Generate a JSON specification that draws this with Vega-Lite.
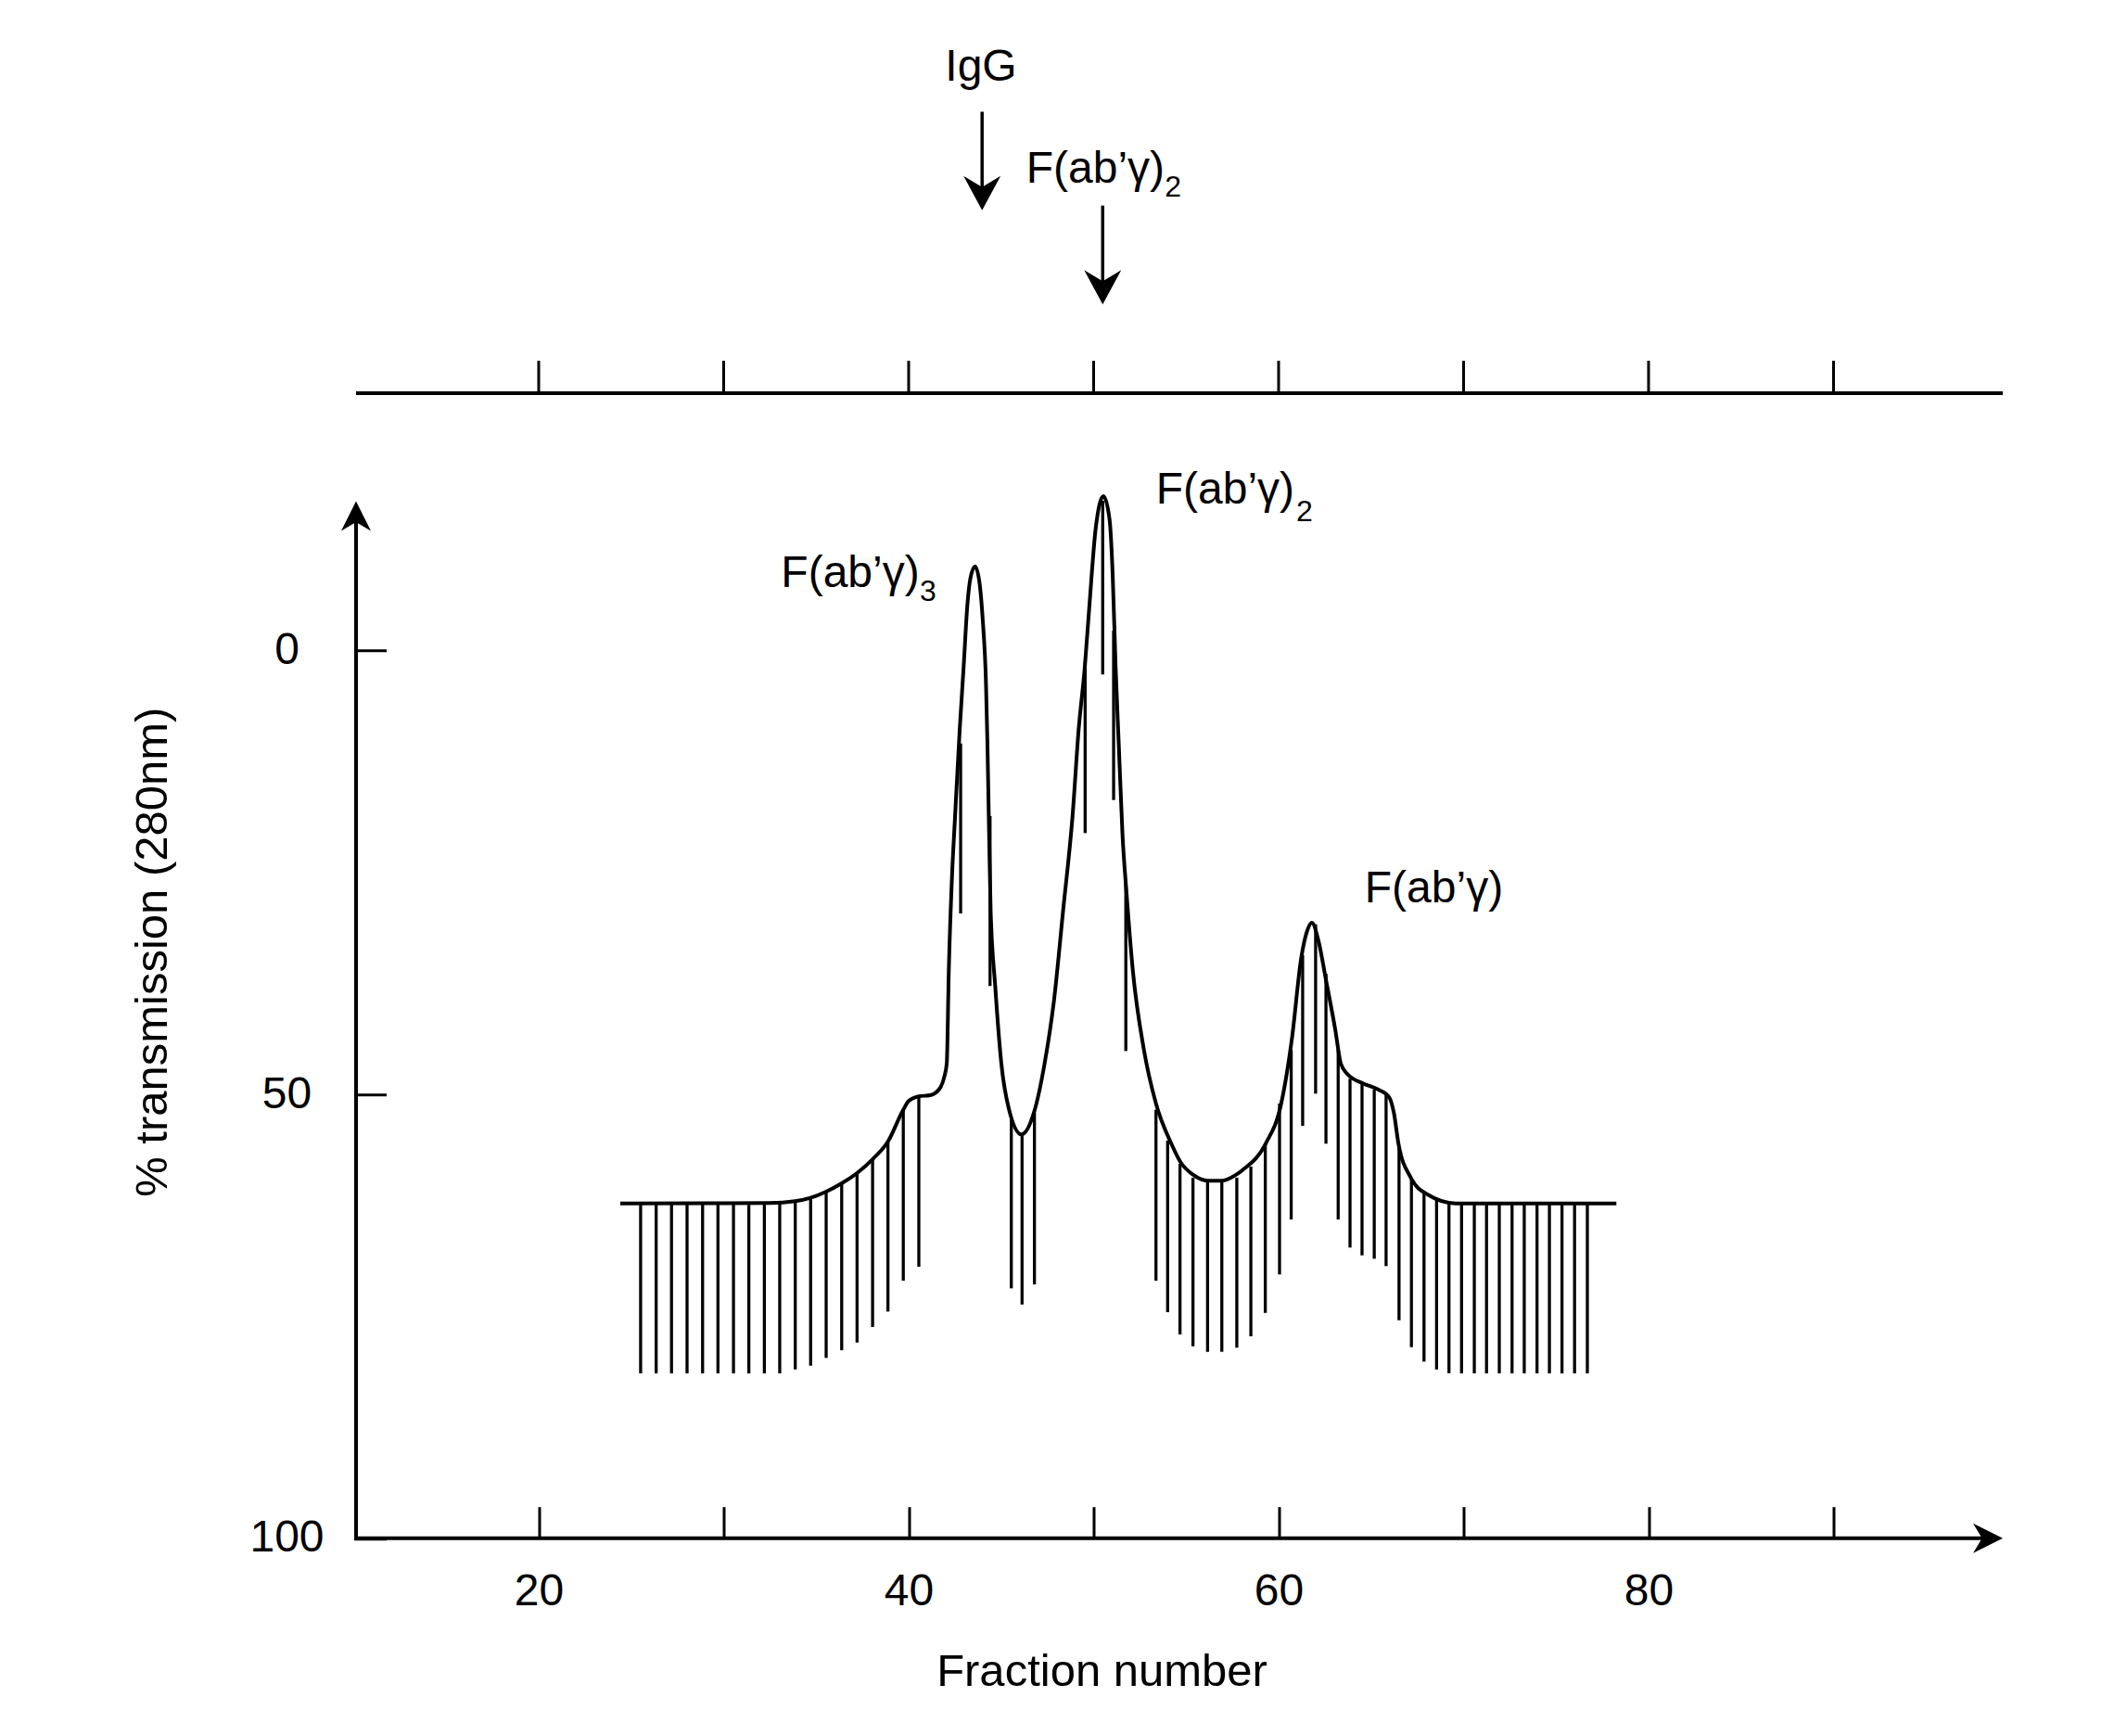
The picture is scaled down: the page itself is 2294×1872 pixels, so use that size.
{
  "$schema": "https://vega.github.io/schema/vega-lite/v6.json",
  "description": "Gel filtration profile: % transmission (280nm) against fraction number, with fraction drop lines.",
  "autosize": {"type": "none"},
  "padding": {"left": 381.5, "top": 414.2, "right": 117.5, "bottom": 213.3},
  "width": 1795.5,
  "height": 1244.5,
  "background": "white",
  "config": {
    "font": "Liberation Sans",
    "view": {"stroke": null},
    "axis": {"grid": false, "domain": false, "labelColor": "black", "titleColor": "black", "tickColor": "black", "titleFontWeight": "normal"}
  },
  "encoding": {
    "x": {
      "field": "x", "type": "quantitative",
      "scale": {"domain": [10, 100], "nice": false, "zero": false},
      "axis": {
        "values": [20, 30, 40, 50, 60, 70, 80, 90],
        "labelExpr": "datum.value % 20 === 0 ? datum.label : ''",
        "tickSize": -34, "tickWidth": 3,
        "labelFontSize": 48, "labelPadding": 92, "labelBaseline": "middle",
        "labelFlush": false, "labelOverlap": false,
        "title": "Fraction number", "titleFontSize": 49,
        "titleX": 806.5, "titleY": 144, "titleBaseline": "middle", "titleAlign": "center"
      }
    },
    "y": {
      "field": "y", "type": "quantitative",
      "scale": {"domain": [-30, 100], "nice": false, "zero": false, "reverse": true},
      "axis": {
        "values": [0, 50, 100],
        "tickSize": -35, "tickWidth": 3,
        "labelFontSize": 48, "labelPadding": 107.5, "labelAlign": "center", "labelBaseline": "middle",
        "labelFlush": false, "labelOverlap": false,
        "title": "% transmission (280nm)", "titleFontSize": 49, "titleAngle": -90,
        "titleX": -217, "titleY": 612, "titleBaseline": "middle", "titleAlign": "center"
      }
    }
  },
  "layer": [
    {
      "data": {"values": [
        {"x": 10.125, "y": 100, "y2": -16}
      ]},
      "mark": {"type": "rule", "color": "black", "strokeWidth": 4},
      "encoding": {"y2": {"field": "y2"}}
    },
    {
      "data": {"values": [
        {"x": 10.125, "x2": 98.7, "y": 100},
        {"x": 10.125, "x2": 99.15, "y": -28.98}
      ]},
      "mark": {"type": "rule", "color": "black", "strokeWidth": 4},
      "encoding": {"x2": {"field": "x2"}}
    },
    {
      "data": {"values": [
        {"x": 20, "y": -28.98, "y2": -32.63},
        {"x": 30, "y": -28.98, "y2": -32.63},
        {"x": 40, "y": -28.98, "y2": -32.63},
        {"x": 50, "y": -28.98, "y2": -32.63},
        {"x": 60, "y": -28.98, "y2": -32.63},
        {"x": 70, "y": -28.98, "y2": -32.63},
        {"x": 80, "y": -28.98, "y2": -32.63},
        {"x": 90, "y": -28.98, "y2": -32.63}
      ]},
      "mark": {"type": "rule", "color": "black", "strokeWidth": 3},
      "encoding": {"y2": {"field": "y2"}}
    },
    {
      "data": {"values": [
        {"x": 43.97, "y": -60.68, "y2": -51.5},
        {"x": 50.49, "y": -50.11, "y2": -41}
      ]},
      "mark": {"type": "rule", "color": "black", "strokeWidth": 3.5},
      "encoding": {"y2": {"field": "y2"}}
    },
    {
      "data": {"values": [
        {"x": 25.51, "y": 62.22, "y2": 81.43},
        {"x": 26.35, "y": 62.22, "y2": 81.43},
        {"x": 27.18, "y": 62.22, "y2": 81.43},
        {"x": 28.02, "y": 62.22, "y2": 81.43},
        {"x": 28.86, "y": 62.22, "y2": 81.43},
        {"x": 29.69, "y": 62.22, "y2": 81.43},
        {"x": 30.53, "y": 62.22, "y2": 81.43},
        {"x": 31.36, "y": 62.22, "y2": 81.43},
        {"x": 32.2, "y": 62.22, "y2": 81.43},
        {"x": 33.03, "y": 62.22, "y2": 81.43},
        {"x": 33.87, "y": 62.04, "y2": 80.99},
        {"x": 34.7, "y": 61.66, "y2": 80.57},
        {"x": 35.54, "y": 60.96, "y2": 79.69},
        {"x": 36.38, "y": 60.02, "y2": 78.83},
        {"x": 37.21, "y": 58.87, "y2": 77.96},
        {"x": 38.05, "y": 57.31, "y2": 76.21},
        {"x": 38.88, "y": 55.32, "y2": 74.47},
        {"x": 39.71, "y": 51.74, "y2": 70.99},
        {"x": 40.55, "y": 50.34, "y2": 69.42},
        {"x": 42.81, "y": 10.48, "y2": 29.63},
        {"x": 44.4, "y": 18.66, "y2": 37.8},
        {"x": 45.55, "y": 52.61, "y2": 71.86},
        {"x": 46.13, "y": 54.7, "y2": 73.68},
        {"x": 46.8, "y": 52.08, "y2": 71.41},
        {"x": 49.54, "y": 1.24, "y2": 20.57},
        {"x": 50.49, "y": -16.86, "y2": 2.71},
        {"x": 51.08, "y": -2.24, "y2": 16.85},
        {"x": 51.74, "y": 26.15, "y2": 45.12},
        {"x": 53.37, "y": 51.74, "y2": 70.99},
        {"x": 54.0, "y": 55.22, "y2": 74.54},
        {"x": 54.67, "y": 57.83, "y2": 77.05},
        {"x": 55.37, "y": 59.39, "y2": 78.38},
        {"x": 56.16, "y": 59.81, "y2": 79.0},
        {"x": 56.93, "y": 59.81, "y2": 79.0},
        {"x": 57.74, "y": 59.39, "y2": 78.54},
        {"x": 58.5, "y": 58.14, "y2": 77.26},
        {"x": 59.28, "y": 55.56, "y2": 74.62},
        {"x": 60.05, "y": 51.04, "y2": 70.29},
        {"x": 60.68, "y": 45.01, "y2": 64.1},
        {"x": 61.3, "y": 34.33, "y2": 53.55},
        {"x": 62.0, "y": 30.85, "y2": 49.92},
        {"x": 62.56, "y": 36.42, "y2": 55.56},
        {"x": 63.22, "y": 44.95, "y2": 64.1},
        {"x": 63.86, "y": 48.25, "y2": 67.26},
        {"x": 64.51, "y": 48.77, "y2": 68.14},
        {"x": 65.17, "y": 49.47, "y2": 68.52},
        {"x": 65.81, "y": 50.0, "y2": 69.35},
        {"x": 66.51, "y": 56.08, "y2": 75.45},
        {"x": 67.18, "y": 59.57, "y2": 78.48},
        {"x": 67.86, "y": 61.14, "y2": 80.11},
        {"x": 68.54, "y": 61.83, "y2": 80.99},
        {"x": 69.21, "y": 62.25, "y2": 81.41},
        {"x": 69.89, "y": 62.29, "y2": 81.43},
        {"x": 70.58, "y": 62.29, "y2": 81.43},
        {"x": 71.24, "y": 62.29, "y2": 81.43},
        {"x": 71.93, "y": 62.29, "y2": 81.43},
        {"x": 72.62, "y": 62.29, "y2": 81.43},
        {"x": 73.28, "y": 62.29, "y2": 81.43},
        {"x": 73.97, "y": 62.29, "y2": 81.43},
        {"x": 74.64, "y": 62.29, "y2": 81.43},
        {"x": 75.32, "y": 62.29, "y2": 81.43},
        {"x": 76.0, "y": 62.29, "y2": 81.43},
        {"x": 76.69, "y": 62.29, "y2": 81.43}
      ]},
      "mark": {"type": "rule", "color": "black", "strokeWidth": 3.3},
      "encoding": {"y2": {"field": "y2"}}
    },
    {
      "data": {"values": [
        {"x": 24.41, "y": 62.29}, {"x": 32.48, "y": 62.25}, {"x": 33.87, "y": 62.04},
        {"x": 34.7, "y": 61.66}, {"x": 35.54, "y": 60.96}, {"x": 36.38, "y": 60.02},
        {"x": 37.21, "y": 58.87}, {"x": 38.05, "y": 57.31}, {"x": 38.88, "y": 55.32},
        {"x": 39.71, "y": 51.74}, {"x": 40.0, "y": 50.76}, {"x": 40.55, "y": 50.23},
        {"x": 41.17, "y": 50.1}, {"x": 41.67, "y": 49.37}, {"x": 41.92, "y": 48.08},
        {"x": 42.06, "y": 46.52}, {"x": 42.17, "y": 36.07}, {"x": 42.34, "y": 25.62},
        {"x": 42.51, "y": 18.66}, {"x": 42.76, "y": 8.91}, {"x": 42.97, "y": 1.94},
        {"x": 43.17, "y": -5.02}, {"x": 43.34, "y": -8.16}, {"x": 43.59, "y": -9.47},
        {"x": 43.84, "y": -7.46}, {"x": 44.01, "y": -3.28}, {"x": 44.18, "y": 3.69},
        {"x": 44.26, "y": 10.64}, {"x": 44.35, "y": 20.75}, {"x": 44.43, "y": 29.1},
        {"x": 44.68, "y": 37.8}, {"x": 45.01, "y": 46.52}, {"x": 45.43, "y": 51.74},
        {"x": 46.1, "y": 54.52}, {"x": 46.77, "y": 52.08}, {"x": 47.35, "y": 46.52},
        {"x": 47.85, "y": 39.55}, {"x": 48.36, "y": 29.1}, {"x": 48.86, "y": 18.66},
        {"x": 49.19, "y": 8.91}, {"x": 49.52, "y": 1.94}, {"x": 49.77, "y": -5.02},
        {"x": 50.11, "y": -13.73}, {"x": 50.53, "y": -17.38}, {"x": 50.86, "y": -14.77},
        {"x": 51.03, "y": -8.5}, {"x": 51.19, "y": 1.94}, {"x": 51.36, "y": 10.64},
        {"x": 51.56, "y": 20.75}, {"x": 51.78, "y": 27.36}, {"x": 52.12, "y": 36.07},
        {"x": 52.7, "y": 44.77}, {"x": 53.37, "y": 51.04}, {"x": 54.2, "y": 55.56},
        {"x": 54.7, "y": 57.65}, {"x": 55.37, "y": 59.05}, {"x": 56.21, "y": 59.74},
        {"x": 56.88, "y": 59.74}, {"x": 57.71, "y": 59.05}, {"x": 58.05, "y": 58.53},
        {"x": 59.3, "y": 55.56}, {"x": 60.14, "y": 51.04}, {"x": 60.72, "y": 43.73},
        {"x": 61.22, "y": 34.67}, {"x": 61.55, "y": 31.54}, {"x": 61.8, "y": 30.67},
        {"x": 62.14, "y": 32.58}, {"x": 62.56, "y": 37.11}, {"x": 63.06, "y": 42.68},
        {"x": 63.36, "y": 46.52}, {"x": 63.72, "y": 47.73}, {"x": 64.56, "y": 48.77},
        {"x": 65.4, "y": 49.47}, {"x": 65.98, "y": 50.34}, {"x": 66.23, "y": 52.08},
        {"x": 66.48, "y": 55.56}, {"x": 67.15, "y": 59.4}, {"x": 68.07, "y": 61.31},
        {"x": 69.57, "y": 62.29}, {"x": 78.26, "y": 62.29}
      ]},
      "mark": {"type": "line", "color": "black", "strokeWidth": 4, "interpolate": "monotone"}
    },
    {
      "data": {"values": [
        {"x": 43.97, "y": -49.59},
        {"x": 50.49, "y": -38.97}
      ]},
      "mark": {"type": "point", "shape": "M0,0 L-1,-1.85 L0,-1.25 L1,-1.85 Z", "size": 1600, "filled": true, "color": "black", "opacity": 1, "strokeWidth": 0}
    },
    {
      "data": {"values": [
        {"x": 10.125, "y": -16.8}
      ]},
      "mark": {"type": "point", "shape": "M0,0 L-1,2 L0,1.4 L1,2 Z", "size": 1024, "filled": true, "color": "black", "opacity": 1, "strokeWidth": 0}
    },
    {
      "data": {"values": [
        {"x": 99.15, "y": 100}
      ]},
      "mark": {"type": "point", "shape": "M0,0 L-2,-1 L-1.4,0 L-2,1 Z", "size": 1024, "filled": true, "color": "black", "opacity": 1, "strokeWidth": 0}
    },
    {
      "data": {"values": [
        {"x": 41.97, "y": -64.21, "t": "IgG"},
        {"x": 46.35, "y": -52.72, "t": "F(ab’γ)"},
        {"x": 33.1, "y": -7.11, "t": "F(ab’γ)"},
        {"x": 53.37, "y": -16.52, "t": "F(ab’γ)"},
        {"x": 64.65, "y": 28.32, "t": "F(ab’γ)"}
      ]},
      "mark": {"type": "text", "align": "left", "baseline": "alphabetic", "fontSize": 48, "color": "black"},
      "encoding": {"text": {"field": "t"}}
    },
    {
      "data": {"values": [
        {"x": 53.85, "y": -51.15, "t": "2"},
        {"x": 40.6, "y": -5.55, "t": "3"},
        {"x": 60.95, "y": -14.6, "t": "2"}
      ]},
      "mark": {"type": "text", "align": "left", "baseline": "alphabetic", "fontSize": 32, "color": "black"},
      "encoding": {"text": {"field": "t"}}
    }
  ]
}
